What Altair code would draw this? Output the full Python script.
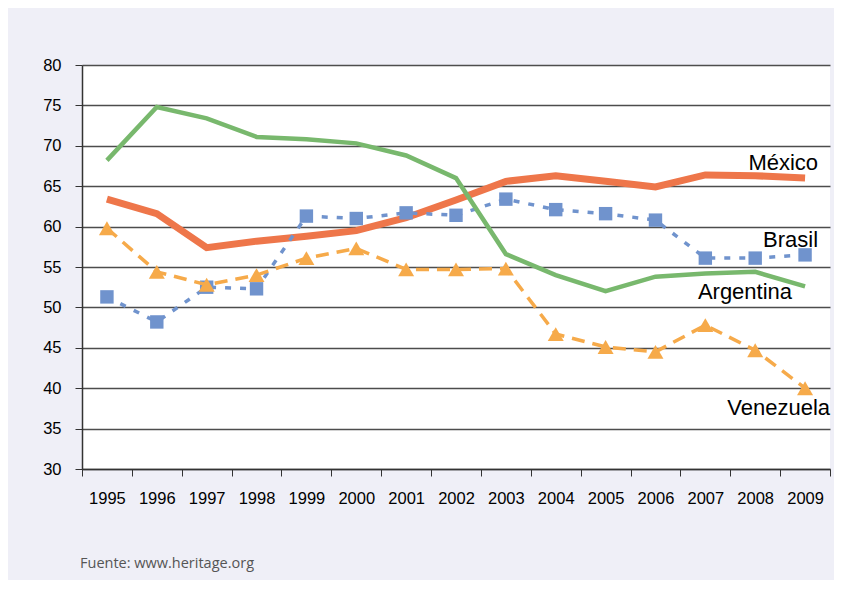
import altair as alt
import pandas as pd

years = [str(y) for y in range(1995, 2010)]
argentina = [68.2, 74.8, 73.4, 71.1, 70.8, 70.3, 68.8, 66.0, 56.6, 54.0, 52.0, 53.8, 54.2, 54.4, 52.6]
mexico = [63.4, 61.6, 57.4, 58.2, 58.8, 59.5, 61.1, 63.3, 65.6, 66.3, 65.6, 64.9, 66.4, 66.3, 66.0]
brasil = [51.3, 48.2, 52.5, 52.3, 61.3, 61.0, 61.7, 61.4, 63.4, 62.1, 61.6, 60.8, 56.1, 56.1, 56.5]
venezuela = [59.8, 54.4, 52.8, 54.0, 56.1, 57.3, 54.7, 54.7, 54.8, 46.7, 45.1, 44.5, 47.8, 44.7, 40.0]

label_names = ["México", "Brasil", "Argentina", "Venezuela"]
label_values = [67.0, 57.5, 51.0, 36.7]
source = "Fuente: www.heritage.org"

FONT = "Liberation Sans"

x_enc = alt.X(
    "year:N",
    sort=years,
    scale=alt.Scale(domain=years, paddingInner=0, paddingOuter=0),
    axis=alt.Axis(
        title=None, labelAngle=0, grid=False, tickBand="extent",
        tickSize=7, tickColor="#333333", domainColor="#333333", domainWidth=1.5,
        labelFont=FONT, labelFontSize=16.5, labelColor="#000000", labelPadding=14,
    ),
)
y_enc = alt.Y(
    "value:Q",
    scale=alt.Scale(domain=[30, 80], nice=False, zero=False),
    axis=alt.Axis(
        title=None, values=list(range(30, 81, 5)), grid=True,
        gridColor="#4d4d4d", gridWidth=1.6,
        tickSize=7, tickColor="#333333", domainColor="#333333", domainWidth=1.5,
        labelFont=FONT, labelFontSize=16.5, labelColor="#000000", labelPadding=14,
    ),
)


def frame(vals):
    return pd.DataFrame({"year": years, "value": vals})


layers = []
# México
layers.append(alt.Chart(frame(mexico)).mark_line(color="#ee764a", strokeWidth=7).encode(x=x_enc, y=y_enc))
# Brasil
layers.append(alt.Chart(frame(brasil)).mark_line(color="#7093cd", strokeWidth=3.5, strokeDash=[6, 9]).encode(x=x_enc, y=y_enc))
layers.append(alt.Chart(frame(brasil)).mark_point(shape="square", filled=True, size=180, color="#7093cd", opacity=1).encode(x=x_enc, y=y_enc))
# Argentina
layers.append(alt.Chart(frame(argentina)).mark_line(color="#78b86d", strokeWidth=4.5).encode(x=x_enc, y=y_enc))
# Venezuela
layers.append(alt.Chart(frame(venezuela)).mark_line(color="#f6aa4a", strokeWidth=3.5, strokeDash=[13, 8]).encode(x=x_enc, y=y_enc))
layers.append(alt.Chart(frame(venezuela)).mark_point(shape="triangle-up", filled=True, size=256, color="#f6aa4a", opacity=1).encode(x=x_enc, y=y_enc))

label_dx = [13, 13, -13, 25]
for name, val, dx in zip(label_names, label_values, label_dx):
    layers.append(
        alt.Chart(pd.DataFrame({"year": ["2009"], "value": [val], "t": [name]}))
        .mark_text(align="right", baseline="alphabetic", dx=dx, font=FONT, fontSize=22, color="#000000")
        .encode(x=x_enc, y=y_enc, text="t:N")
    )

layers.append(
    alt.Chart(pd.DataFrame({"t": [source]}))
    .mark_text(align="left", baseline="alphabetic", font="Open Sans", fontSize=14.5, color="#555555")
    .encode(x=alt.value(-2), y=alt.value(503), text="t:N")
)

chart = (
    alt.layer(*layers)
    .properties(
        width=748, height=404,
        autosize=alt.AutoSizeParams(type="none"),
        padding={"left": 74, "top": 57, "right": 4, "bottom": 111},
        background="#efeff7",
    )
    .configure_view(stroke=None, fill="#ffffff")
)

chart.save("out.html", embed_options={"renderer": "svg", "actions": False})
